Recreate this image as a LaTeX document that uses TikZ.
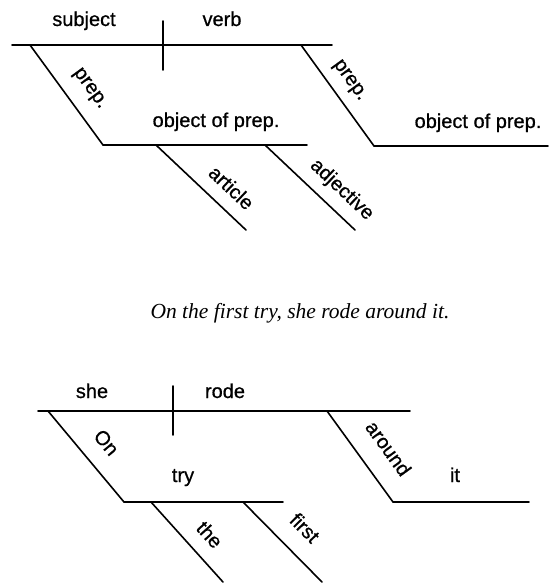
\documentclass[tikz,border=0pt]{standalone}
\usepackage{fontspec}
\setmainfont{Liberation Sans}[FakeBold=0.7]
\newfontfamily\captionfont{Liberation Serif}

\begin{document}
\begin{tikzpicture}[x=1pt,y=-1pt]

\tikzstyle{word} = [font=\fontsize{20}{24}\selectfont, inner sep=0pt, text height=14pt, text depth=4pt]
\tikzstyle{rule} = [line width=1.6pt, line cap=round]

\useasboundingbox (0,0) rectangle (552,583);

% pattern
\coordinate (m1) at (12,45);
\coordinate (m2) at (332,45);
\coordinate (d1) at (163,21);
\coordinate (d2) at (163,70);
\coordinate (p1) at (30,45);
\coordinate (o1) at (103,145);
\coordinate (o2) at (307,145);
\coordinate (a1) at (156,145);
\coordinate (a2) at (246,230);
\coordinate (j1) at (265,145);
\coordinate (j2) at (355,230);
\coordinate (q1) at (301,45);
\coordinate (r1) at (374,146);
\coordinate (r2) at (548,146);

\node[word](subj) at (84,21){subject};
\node[word](verb) at (222,21){verb};
\node[word](obj1) at (216,122){object of prep.};
\node[word](obj2) at (478,123){object of prep.};

\draw[rule] (m1) -- (m2);
\draw[rule] (d1) -- (d2);
\draw[rule] (p1) -- node[word,sloped,above=14pt,pos=0.57]{prep.} (o1);
\draw[rule] (o1) -- (o2);
\draw[rule] (a1) -- node[word,sloped,above=9pt,pos=0.68]{article} (a2);
\draw[rule] (j1) -- node[word,sloped,above=10pt,pos=0.7]{adjective} (j2);
\draw[rule] (q1) -- node[word,sloped,above=10pt,pos=0.46]{prep.} (r1);
\draw[rule] (r1) -- (r2);

% sentence
\node[font=\captionfont\itshape\fontsize{21.5}{26}\selectfont](sentence) at (300,313){On the first try, she rode around it.};

% diagram of the sentence
\coordinate (n1) at (38,411);
\coordinate (n2) at (410,411);
\coordinate (e1) at (173,386);
\coordinate (e2) at (173,435);
\coordinate (s1) at (48,411);
\coordinate (t1) at (124,502);
\coordinate (t2) at (283,502);
\coordinate (h1) at (151,502);
\coordinate (h2) at (223,582);
\coordinate (f1) at (243,502);
\coordinate (f2) at (322,582);
\coordinate (u1) at (327,411);
\coordinate (i1) at (393,502);
\coordinate (i2) at (529,502);

\node[word](she) at (92,393){she};
\node[word](rode) at (225,393){rode};
\node[word](try) at (183,477){try};
\node[word](it) at (455,477){it};

\draw[rule] (n1) -- (n2);
\draw[rule] (e1) -- (e2);
\draw[rule] (s1) -- node[word,sloped,above=13pt,pos=0.52]{On} (t1);
\draw[rule] (t1) -- (t2);
\draw[rule] (h1) -- node[word,sloped,above=10pt,pos=0.59]{the} (h2);
\draw[rule] (f1) -- node[word,sloped,above=14pt,pos=0.55]{first} (f2);
\draw[rule] (u1) -- node[word,sloped,above=16pt,pos=0.59]{around} (i1);
\draw[rule] (i1) -- (i2);

\end{tikzpicture}
\end{document}
